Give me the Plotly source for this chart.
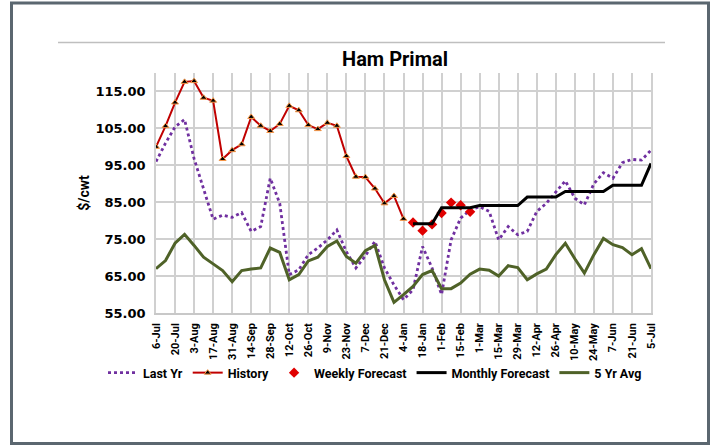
import pandas as pd
import plotly.graph_objects as go

# Weekly dates (Mondays) spanning one marketing year
weeks = pd.date_range("2020-07-06", periods=53, freq="7D")

tick_labels = ["6-Jul", "20-Jul", "3-Aug", "17-Aug", "31-Aug", "14-Sep", "28-Sep",
               "12-Oct", "26-Oct", "9-Nov", "23-Nov", "7-Dec", "21-Dec", "4-Jan",
               "18-Jan", "1-Feb", "15-Feb", "1-Mar", "15-Mar", "29-Mar", "12-Apr",
               "26-Apr", "10-May", "24-May", "7-Jun", "21-Jun", "5-Jul"]

# $/cwt values
last_yr = [96.0, 101.0, 105.4, 107.4, 96.8, 88.8, 80.4, 81.5, 80.9, 82.2,
           77.1, 78.4, 91.5, 84.7, 65.4, 66.7, 70.8, 72.6, 74.8, 77.5,
           71.6, 67.2, 70.5, 74.4, 67.2, 62.6, 58.6, 61.3, 73.0, 67.2,
           60.0, 74.8, 80.7, 82.9, 83.8, 82.5, 74.8, 78.4, 76.2, 77.1,
           82.5, 84.7, 87.9, 90.8, 86.1, 84.3, 90.0, 93.0, 91.5, 95.7,
           96.6, 96.4, 99.1]

history = [100.0, 105.6, 112.0, 117.6, 117.8, 113.3, 112.5, 96.7, 99.1, 100.7,
           108.1, 105.7, 104.3, 106.2, 111.1, 109.9, 105.9, 104.8, 106.5, 105.7,
           97.5, 91.9, 91.8, 88.7, 84.7, 86.7, 80.5]

weekly_forecast = [79.5, 77.3, 79.0, 82.1, 84.9, 84.2, 82.4]

monthly_forecast = [79.2, 79.2, 79.2,
                    83.5, 83.5, 83.5, 83.5,
                    84.1, 84.1, 84.1, 84.1, 84.1,
                    86.4, 86.4, 86.4, 86.4,
                    87.9, 87.9, 87.9, 87.9, 87.9,
                    89.6, 89.6, 89.6, 89.6,
                    95.5]

five_yr_avg = [67.0, 69.2, 73.9, 76.3, 73.3, 70.1, 68.3, 66.5, 63.5, 66.5,
               66.9, 67.2, 72.6, 71.4, 64.0, 65.4, 69.1, 70.1, 73.0, 74.5,
               70.3, 68.5, 71.9, 73.3, 64.0, 57.9, 60.0, 62.2, 65.4, 66.5,
               61.6, 61.6, 63.1, 65.5, 66.9, 66.6, 65.0, 67.8, 67.3, 64.0,
               65.6, 66.9, 70.8, 73.9, 69.7, 65.8, 70.8, 75.2, 73.5, 72.7,
               70.8, 72.4, 67.0]

n_hist = len(history)
n_wk = len(weekly_forecast)

fig = go.Figure()

fig.add_trace(go.Scatter(
    x=weeks, y=last_yr, name="Last Yr", mode="lines",
    line=dict(color="#7030a0", width=2.8, dash="3px,3px"),
))
fig.add_trace(go.Scatter(
    x=weeks[:n_hist], y=history, name="History", mode="lines+markers",
    line=dict(color="#c00000", width=2),
    marker=dict(symbol="triangle-up", size=6, color="#000000",
                line=dict(color="#f79646", width=1)),
))
fig.add_trace(go.Scatter(
    x=weeks[n_hist:n_hist + n_wk], y=weekly_forecast, name="Weekly Forecast",
    mode="markers",
    marker=dict(symbol="diamond", size=8, color="#e00000"),
))
fig.add_trace(go.Scatter(
    x=weeks[n_hist:], y=monthly_forecast, name="Monthly Forecast", mode="lines",
    line=dict(color="#000000", width=3),
))
fig.add_trace(go.Scatter(
    x=weeks, y=five_yr_avg, name="5 Yr Avg", mode="lines",
    line=dict(color="#4f6228", width=3),
))

# pixel -> paper helpers for the decorative frame
L, R, T, B = 156, 63, 73, 132
W, H = 714, 445
pw, ph = W - L - R, H - T - B


def px(xp):
    return (xp - L) / pw


def py(yp):
    return (H - B - yp) / ph


fig.update_layout(
    width=W, height=H,
    margin=dict(l=L, r=R, t=T, b=B),
    paper_bgcolor="white", plot_bgcolor="white",
    title=dict(text="Ham Primal", x=395 / W, xanchor="center",
               y=1 - 59 / H, yanchor="middle",
               font=dict(family="Roboto", size=20, color="#000000", weight="bold")),
    xaxis=dict(
        type="date",
        range=[weeks[0], weeks[-1]],
        tickvals=weeks[::2], ticktext=tick_labels,
        tickangle=-90,
        tickfont=dict(family="Roboto", size=11, color="#000000", weight="bold"),
        showgrid=True, gridcolor="#d0d0d0", gridwidth=1.5,
        showline=True, linecolor="#c8c8c8", linewidth=1.5,
        ticks="", ticklabelstandoff=4,
        zeroline=False,
    ),
    yaxis=dict(
        range=[55, 120], tick0=55, dtick=10, tickformat=".2f",
        tickfont=dict(family="DejaVu Sans", size=13, color="#000000", weight="bold"),
        showgrid=True, gridcolor="#d0d0d0", gridwidth=1.5,
        showline=True, mirror=True, linecolor="#d0d0d0", linewidth=1.5,
        ticks="", ticklabelstandoff=6,
        zeroline=False,
        title=dict(text="$/cwt", standoff=3,
                   font=dict(family="Roboto", size=14, color="#000000", weight="bold")),
    ),
    legend=dict(
        orientation="h", x=px(103), xanchor="left", y=py(373), yanchor="middle",
        font=dict(family="Roboto", size=12.5, color="#000000", weight="bold"),
        bgcolor="rgba(0,0,0,0)", itemwidth=30, tracegroupgap=0,
    ),
    showlegend=True,
    shapes=[
        dict(type="rect", xref="paper", yref="paper",
             x0=px(11.5), x1=px(708.5), y0=py(443.5), y1=py(3),
             line=dict(color="#5b6770", width=3), layer="below"),
        dict(type="line", xref="paper", yref="paper",
             x0=px(58), x1=px(665), y0=py(42.5), y1=py(42.5),
             line=dict(color="#bfbfbf", width=1.5)),
    ],
)

fig.write_html("out.html")
